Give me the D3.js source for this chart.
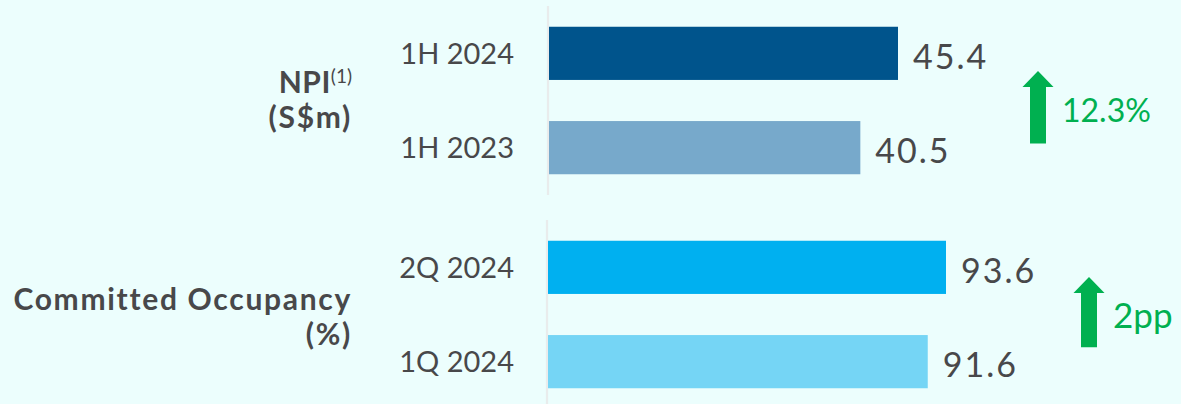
<!DOCTYPE html>
<html>
<head>
<meta charset="utf-8">
<script src="https://cdn.jsdelivr.net/npm/d3@7"></script>
<style>
  html, body { margin: 0; padding: 0; background: #ecfefd; }
  svg { display: block; font-family: Lato, "Noto Sans", sans-serif; }
</style>
</head>
<body>
<svg id="chart" width="1181" height="404"></svg>
<script>
// ---- data ----
const npiCategories = ["1H 2024", "1H 2023"];
const npiValues = [45.4, 40.5];
const npiChange = "12.3%";

const occCategories = ["2Q 2024", "1Q 2024"];
const occValues = [93.6, 91.6];
const occChange = "2pp";

const npiColors = ["#00548c", "#77a9cb"];
const occColors = ["#00b0f0", "#75d5f5"];

// ---- layout ----
const W = 1181, H = 404;
const textColor = "#48484a";
const green = "#00b050";

const svg = d3.select("#chart");
svg.append("rect").attr("width", W).attr("height", H).attr("fill", "#ecfefd");

const panels = [
  {
    cats: npiCategories, vals: npiValues, colors: npiColors, change: npiChange,
    yRange: [6, 195], axisEnd: 195, xDomain: [0, 45.4], xRange: [549, 898],
    title: [{t: "NPI", sup: "(1)"}, {t: "(S$m)"}], titleBase: 93,
    arrowTip: 0.83, arrowBottom: 0.42, arrowDx: 140, changeSize: 32
  },
  {
    cats: occCategories, vals: occValues, colors: occColors, change: occChange,
    yRange: [220, 409], axisEnd: 404, xDomain: [50, 93.6], xRange: [548, 946],
    title: [{t: "Committed Occupancy"}, {t: "(%)"}], titleBase: 310,
    arrowTip: 0.68, arrowBottom: 0.23, arrowDx: 143, changeSize: 35
  }
];

panels.forEach(p => {
  const y = d3.scaleBand().domain(p.cats).range(p.yRange).paddingInner(0.436).paddingOuter(0.22);
  const x = d3.scaleLinear().domain(p.xDomain).range(p.xRange);
  const g = svg.append("g");

  // axis line
  g.append("line")
    .attr("x1", p.xRange[0] - 1).attr("x2", p.xRange[0] - 1)
    .attr("y1", p.yRange[0]).attr("y2", p.axisEnd)
    .attr("stroke", "#e9ecec").attr("stroke-width", 2.2);

  // bars
  g.selectAll("rect.bar").data(p.vals).join("rect")
    .attr("class", "bar")
    .attr("x", x.range()[0])
    .attr("y", (d, i) => y(p.cats[i]))
    .attr("width", d => x(d) - x.range()[0])
    .attr("height", y.bandwidth())
    .attr("fill", (d, i) => p.colors[i]);

  // category labels
  g.selectAll("text.cat").data(p.cats).join("text")
    .attr("class", "cat")
    .attr("x", 514)
    .attr("y", d => y(d) + y.bandwidth() / 2)
    .attr("dy", "0.36em")
    .attr("text-anchor", "end")
    .attr("fill", textColor)
    .attr("font-size", 29)
    .text(d => d);

  // value labels
  g.selectAll("text.val").data(p.vals).join("text")
    .attr("class", "val")
    .attr("x", d => x(d) + 15)
    .attr("y", (d, i) => y(p.cats[i]) + y.bandwidth() / 2 + 3)
    .attr("dy", "0.36em")
    .attr("fill", textColor)
    .attr("font-size", 34)
    .attr("letter-spacing", 2)
    .text(d => d.toFixed(1));

  // group title
  p.title.forEach((line, i) => {
    const t = g.append("text")
      .attr("x", 352)
      .attr("y", p.titleBase + i * 35)
      .attr("text-anchor", "end")
      .attr("fill", textColor)
      .attr("font-size", 30)
      .attr("font-weight", 700)
      .attr("letter-spacing", line.sup ? 0.5 : 1.7);
    t.append("tspan").text(line.t);
    if (line.sup) {
      t.append("tspan").attr("font-size", 19).attr("font-weight", 400)
        .attr("letter-spacing", 0)
        .attr("dy", -10).text(line.sup);
    }
  });

  // change arrow
  const cx = x(d3.max(p.vals)) + p.arrowDx;
  const tip = y(p.cats[0]) + y.bandwidth() * p.arrowTip;
  const bottom = y(p.cats[1]) + y.bandwidth() * p.arrowBottom;
  const headH = 16, headHalf = 15.5, shaftHalf = 8;
  const path = d3.path();
  path.moveTo(cx, tip);
  path.lineTo(cx + headHalf, tip + headH);
  path.lineTo(cx + shaftHalf, tip + headH);
  path.lineTo(cx + shaftHalf, bottom);
  path.lineTo(cx - shaftHalf, bottom);
  path.lineTo(cx - shaftHalf, tip + headH);
  path.lineTo(cx - headHalf, tip + headH);
  path.closePath();
  g.append("path").attr("d", path.toString()).attr("fill", green);

  g.append("text")
    .attr("x", cx + 24)
    .attr("y", (tip + bottom) / 2 + 3)
    .attr("dy", "0.36em")
    .attr("fill", green)
    .attr("font-size", p.changeSize)
    .text(p.change);
});
</script>
</body>
</html>
